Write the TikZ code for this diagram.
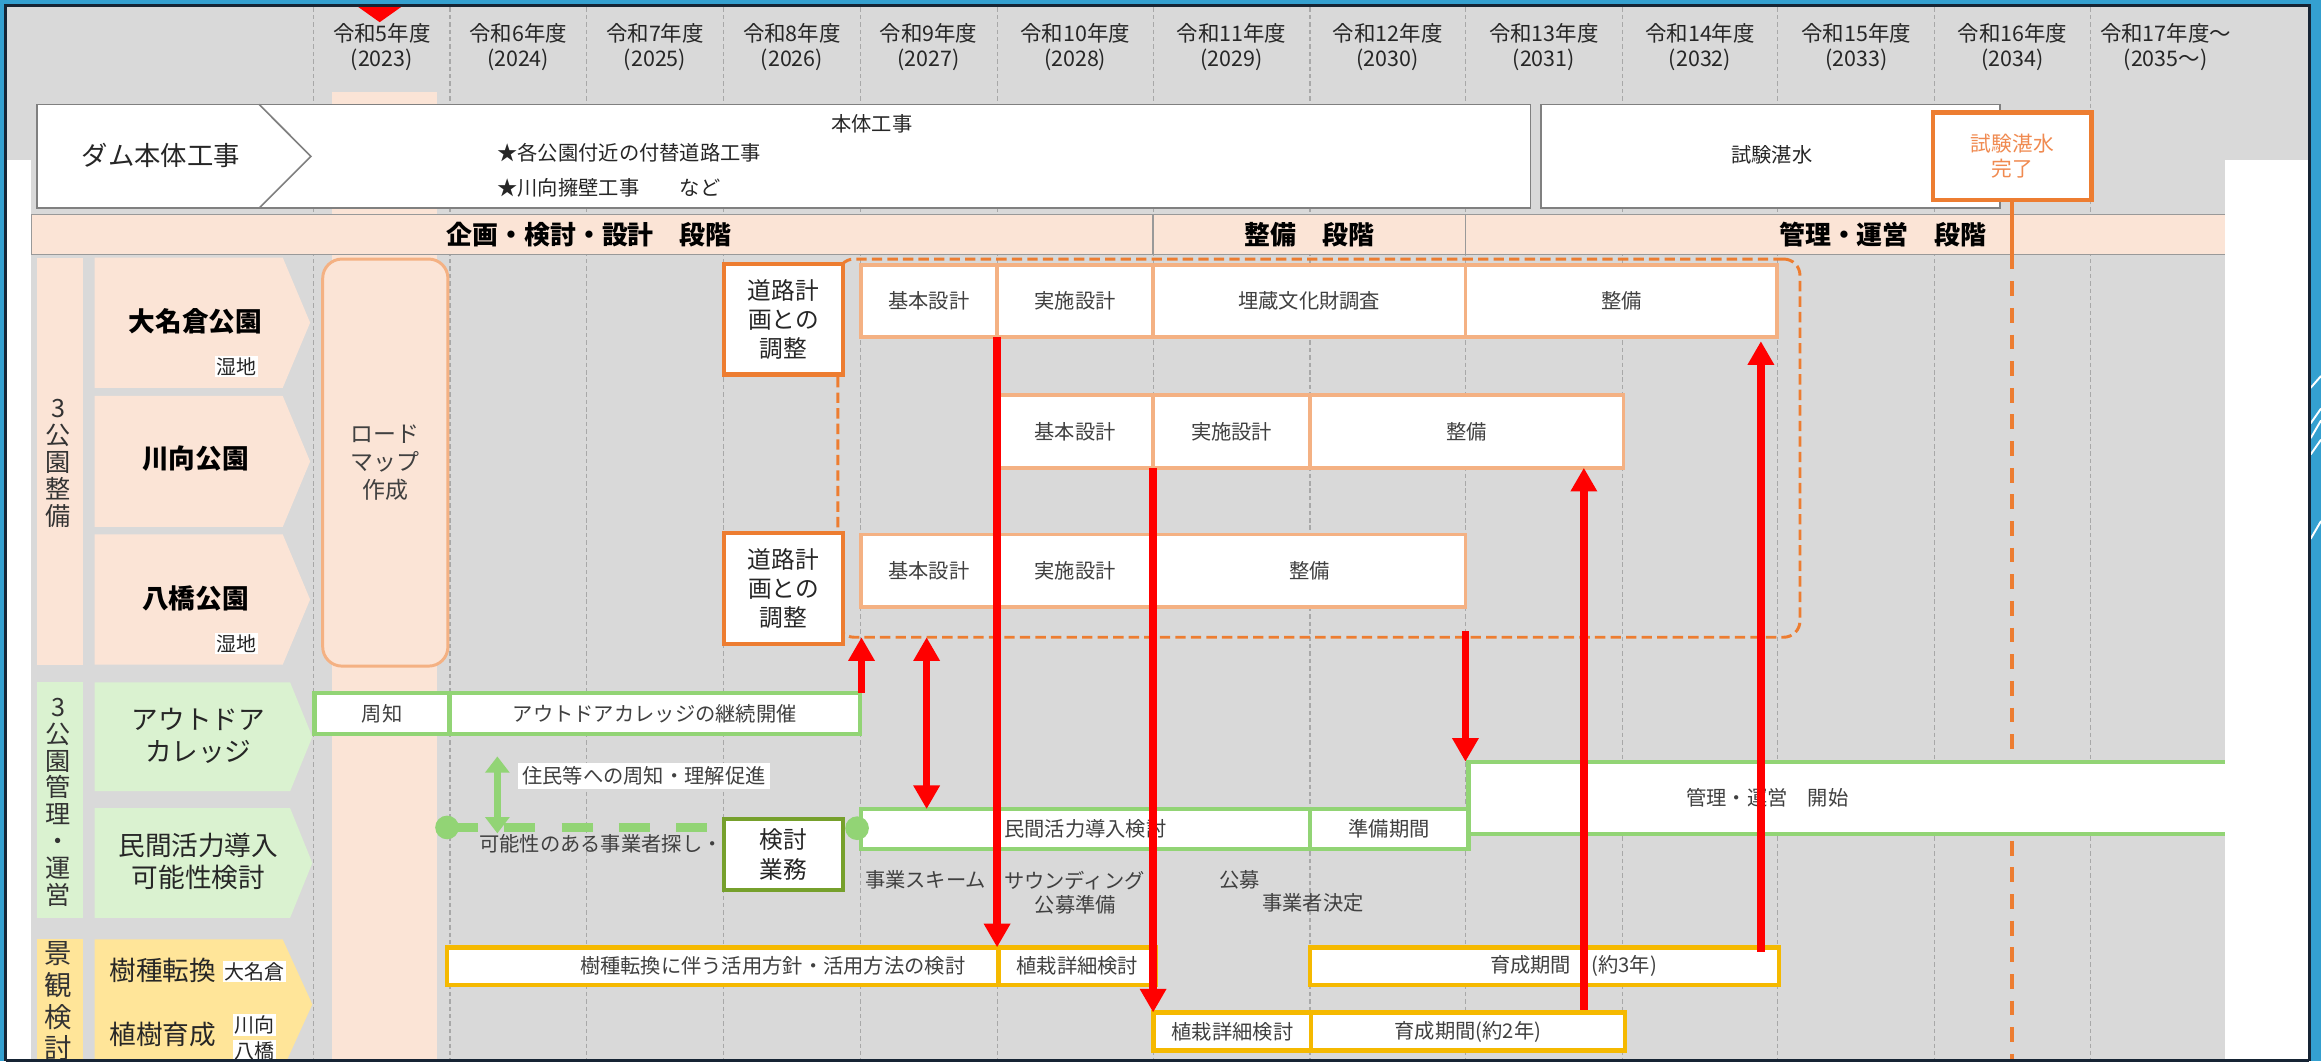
\documentclass[tikz,border=0pt]{standalone}
\usepackage{fontspec}
\setmainfont{Noto Sans CJK JP}
\usetikzlibrary{arrows.meta}
\definecolor{bggray}{RGB}{217,217,217}
\definecolor{peach}{RGB}{251,228,214}
\definecolor{peachline}{RGB}{244,177,131}
\definecolor{orng}{RGB}{237,125,49}
\definecolor{orngtxt}{RGB}{240,138,80}
\definecolor{lgreen}{RGB}{218,242,208}
\definecolor{greenline}{RGB}{146,212,117}
\definecolor{dgreen}{RGB}{118,160,44}
\definecolor{lyellow}{RGB}{255,229,153}
\definecolor{gold}{RGB}{245,185,0}
\definecolor{txtgray}{RGB}{64,64,64}
\definecolor{gridgray}{RGB}{168,168,168}
\definecolor{framenavy}{RGB}{22,36,52}
\definecolor{bluebg}{RGB}{52,160,208}
\definecolor{redar}{RGB}{255,0,0}
\definecolor{boxgray}{RGB}{128,128,128}
\newcommand{\boxat}[7]{\node[#1, anchor=north west, minimum width={#4-#2}, minimum height={#5-#3}] (#6) at (#2,#3) {#7};}
\begin{document}
\begin{tikzpicture}[x=1pt,y=-1pt,
  every node/.style={inner sep=0pt,outer sep=0pt},
  norm/.style={font=\fontsize{13.7}{16.5}\selectfont,text=txtgray},
  big/.style={font=\fontsize{18}{21.5}\selectfont,text=black!85,align=center},
  bigb/.style={font=\bfseries\fontsize{18}{21}\selectfont,text=black},
  yearlbl/.style={align=center,font=\fontsize{14.5}{17}\selectfont,text=black!85},
  vert/.style={align=center,font=\fontsize{17}{18.2}\selectfont,text=black!80},
  small/.style={fill=white,inner sep=1pt,font=\fontsize{13.5}{15}\selectfont,text=black!85},
  pcell/.style={draw=peachline,line width=2.5pt,fill=white,norm},
  gcell/.style={draw=greenline,line width=3pt,fill=white,norm},
  ycell/.style={draw=gold,line width=3pt,fill=white,norm},
  bandcell/.style={draw=boxgray!80,line width=0.9pt,fill=peach,font=\bfseries\fontsize{17.5}{20}\selectfont,text=black},
  dambox/.style={draw=boxgray,line width=1.1pt,fill=white,norm},
  roadbox/.style={draw=orng,line width=2.8pt,fill=white,align=center,font=\fontsize{16}{19.5}\selectfont,text=black!85},
  kentoubox/.style={draw=dgreen,line width=2.8pt,fill=white,align=center,font=\fontsize{16}{20.5}\selectfont,text=black!85},
  donebox/.style={draw=orng,line width=3pt,fill=white,align=center,font=\fontsize{14}{17}\selectfont,text=orngtxt},
  roadmapbox/.style={draw=peachline,line width=2pt,fill=peach,rounded corners=13pt,align=center,font=\fontsize{15.5}{19}\selectfont,text=txtgray},
  grpbox/.style={draw=orng,line width=2pt,dash pattern=on 7pt off 3.5pt,rounded corners=11pt},
  gridline/.style={draw=gridgray,line width=0.8pt,dash pattern=on 3pt off 2pt},
  redarrow/.style={draw=redar,line width=5pt,-{Triangle[width=17pt,length=16pt]}},
  reddouble/.style={draw=redar,line width=5pt,{Triangle[width=17pt,length=16pt]}-{Triangle[width=17pt,length=16pt]}},
  garrow/.style={draw=greenline,line width=4.5pt,{Triangle[width=16pt,length=11pt]}-{Triangle[width=16pt,length=11pt]}},
  gdash/.style={draw=greenline,line width=5.5pt,dash pattern=on 21pt off 17.7pt},
  gdot/.style={circle,fill=greenline,minimum size=16pt}
]
\useasboundingbox (0,0) rectangle (1568,717);
% background and frame
\fill[bluebg] (0,0) rectangle (1568,717);
\foreach \ya/\yb in {254/262,276/286,284/296,297/307,352/364}
  \draw[white,line width=1.3pt] (1561,\yb) -- (1568,\ya);
\fill[framenavy] (3,3) rectangle (1561,717);
\fill[bggray] (5,5) rectangle (1559,717);
% grid
\foreach \x in {212,304,396,489,581.5,673.6,779,885,990,1096,1201,1307,1412}
  \draw[gridline] (\x,5) -- (\x,717);
% roadmap year strip and marker
\fill[peach] (224,62) rectangle (295,717);
\fill[redar] (241,4) -- (272,4) -- (256.5,15) -- cycle;
% year labels
\foreach \cx/\a/\b [count=\i] in {258/5/2023,350/6/2024,442.5/7/2025,535/8/2026,627.3/9/2027,726.3/10/2028,832/11/2029,937.5/12/2030,1043/13/2031,1148.5/14/2032,1254/15/2033,1359.5/16/2034}
  \node[yearlbl] (yr\i) at (\cx,32) {令和\a 年度\\(\b)};
\node[yearlbl] (yr13) at (1463,32) {令和17年度～\\(2035～)};
% dam row
\boxat{dambox}{25}{70.5}{1034}{140.7}{dam}{}
\draw[boxgray,line width=1.1pt] (175,70.5) -- (210,105.6) -- (175,140.7);
\node[font=\fontsize{17.8}{20}\selectfont,text=black!85] (damlbl) at (108.6,105) {ダム本体工事};
\node[norm,text=black!85] (hontai) at (589,83.5) {本体工事};
\node[norm,text=black!85,anchor=west] (star1) at (336,103) {★各公園付近の付替道路工事};
\node[norm,text=black!85,anchor=west] (star2) at (336,127) {★川向擁壁工事　　など};
\boxat{dambox}{1041}{70.5}{1351}{140.7}{shiken}{}
\node[norm,text=black!85] (shikentxt) at (1197,104.7) {試験湛水};
\boxat{donebox}{1306}{76}{1413}{135}{done}{試験湛水\\完了}
% phase band
\boxat{bandcell}{21}{145}{779}{172}{band1}{}
\boxat{bandcell}{779}{145}{990}{172}{band2}{}
\boxat{bandcell}{990}{145}{1559}{172}{band3}{}
\node[bandcell,draw=none,fill=none] (ph1) at (398,158.5) {企画・検討・設計　段階};
\node[bandcell,draw=none,fill=none] (ph2) at (884.5,158.5) {整備　段階};
\node[bandcell,draw=none,fill=none] (ph3) at (1272,158.5) {管理・運営　段階};
% completion line
\coordinate (vlbot) at (1359.5,717);
\draw[orng,line width=2.8pt] (done.south) -- (done.south |- band3.south);
\draw[orng,line width=2.8pt,dash pattern=on 10pt off 8pt] (done.south |- band3.south) -- (vlbot);
% left: 3 parks section
\fill[peach] (25,174) rectangle (56,449);
\node[vert] (sec1) at (39.5,313) {3\\公\\園\\整\\備};
\fill[peach] (64,174) -- (191,174) -- (209.5,218) -- (191,262) -- (64,262) -- cycle;
\fill[peach] (64,267.5) -- (191,267.5) -- (209.5,311.75) -- (191,356) -- (64,356) -- cycle;
\fill[peach] (64,361) -- (191,361) -- (209.5,405) -- (191,449) -- (64,449) -- cycle;
\node[bigb] (p1) at (132,217) {大名倉公園};
\node[small] (p1s) at (159.5,247.5) {湿地};
\node[bigb] (p2) at (132,310) {川向公園};
\node[bigb] (p3) at (132,404) {八橋公園};
\node[small] (p3s) at (159.5,435) {湿地};
% roadmap
\boxat{roadmapbox}{218}{175}{302.6}{450}{roadmap}{ロード\\マップ\\作成}
% dashed group
\boxat{grpbox}{566}{175}{1216}{430.5}{grp}{}
\boxat{roadbox}{489}{178.5}{569.5}{253}{road1}{道路計\\画との\\調整}
\boxat{roadbox}{489}{360}{569.5}{435}{road2}{道路計\\画との\\調整}
% park bars
\boxat{pcell}{581.5}{179}{673.6}{227.5}{d1a}{基本設計}
\boxat{pcell}{673.6}{179}{779}{227.5}{d1b}{実施設計}
\boxat{pcell}{779}{179}{990}{227.5}{d1c}{埋蔵文化財調査}
\boxat{pcell}{990}{179}{1200.6}{227.5}{d1d}{整備}
\boxat{pcell}{673.6}{267}{779}{316}{k1a}{基本設計}
\boxat{pcell}{779}{267}{885}{316}{k1b}{実施設計}
\boxat{pcell}{885}{267}{1096.7}{316}{k1c}{整備}
\boxat{pcell}{581.5}{361}{673.6}{410}{h1a}{基本設計}
\boxat{pcell}{673.6}{361}{779}{410}{h1b}{実施設計}
\boxat{pcell}{779}{361}{990}{410}{h1c}{整備}
% management section
\fill[lgreen] (25,461) rectangle (56,620);
\node[vert] (sec2) at (39.5,542) {3\\公\\園\\管\\理\\・\\運\\営};
\fill[lgreen] (64,461) -- (196,461) -- (211,497.75) -- (196,534.5) -- (64,534.5) -- cycle;
\fill[lgreen] (64,546) -- (196,546) -- (211,583) -- (196,620) -- (64,620) -- cycle;
\node[big] (g1) at (134,497) {アウトドア\\カレッジ};
\node[big] (g2) at (134,582) {民間活力導入\\可能性検討};
\boxat{gcell}{212.5}{468}{303.7}{496}{g1a}{周知}
\boxat{gcell}{303.7}{468}{581}{496}{g1b}{アウトドアカレッジの継続開催}
\boxat{gcell}{992}{514.6}{1559}{563.5}{kanri}{}
\node[norm] (kanritxt) at (1194,539) {管理・運営　開始};
\boxat{gcell}{581.5}{546.6}{885}{573.6}{m1a}{民間活力導入検討}
\boxat{gcell}{885}{546.6}{992}{573.6}{m1b}{準備期間}
\node[gdot] (gc2) at (579,559.5) {};
\node[norm] (sound1) at (625.3,594.6) {事業スキーム};
\node[norm] (sound2) at (725.8,594.6) {サウンディング};
\node[norm] (sound3) at (726.6,611.5) {公募準備};
\node[norm] (koubo) at (837.5,594.6) {公募};
\node[norm] (kettei) at (887,610) {事業者決定};
\node[norm] (sagashi) at (406,570) {可能性のある事業者探し・};
\boxat{kentoubox}{489}{553}{569.5}{601.5}{kentou}{検討\\業務}
\node[gdot] (gc1) at (302,559) {};
\draw[gdash] (gc1.center) -- (479,559) coordinate (gdend);
\node[norm,fill=white,inner xsep=3pt,inner ysep=2.5pt] (jumin) at (435,524) {住民等への周知・理解促進};
\coordinate (gat) at (336,511);
\coordinate (gab) at (336,563);
\draw[garrow] (gat) -- (gab);
% landscape section
\fill[lyellow] (25,634.6) rectangle (56,760);
\node[align=center,font=\fontsize{18.5}{21.5}\selectfont,text=black!80,anchor=north] (sec3) at (39.5,636) {景\\観\\検\\討};
\fill[lyellow] (64,634.6) -- (191,634.6) -- (211,678.5) -- (191,722.5) -- (64,722.5) -- cycle;
\node[big] (y1) at (110,655.4) {樹種転換};
\node[big] (y2) at (110,699) {植樹育成};
\node[small] (y1s) at (172,656.3) {大名倉};
\node[small] (y2s) at (171.7,692.3) {川向};
\node[small] (y3s) at (171.7,710) {八橋};
\boxat{ycell}{301.8}{640}{674.6}{665.5}{y1a}{}
\node[norm] (y1atxt) at (522,652.7) {樹種転換に伴う活用方針・活用方法の検討};
\boxat{ycell}{674.6}{640}{781}{665.5}{y1c}{植栽詳細検討}
\boxat{ycell}{885}{640}{1201.7}{665.5}{y1b}{}
\node[norm] (y1btxt) at (1063,652.7) {育成期間　(約3年)};
\boxat{ycell}{779.4}{684}{885.8}{709.6}{y2a}{植栽詳細検討}
\boxat{ycell}{885.8}{684}{1097.7}{709.6}{y2b}{育成期間(約2年)}
% red arrows
\coordinate (r1x) at (582,0);
\coordinate (r2x) at (626,0);
\coordinate (r5x) at (990,0);
\coordinate (r6x) at (1070,0);
\coordinate (r7x) at (1189.6,0);
\draw[redarrow] (r1x |- g1b.north) -- (r1x |- grp.south);
\draw[reddouble] (r2x |- grp.south) -- (r2x |- m1a.north);
\draw[redarrow] (d1a.south east) -- (d1a.south east |- y1a.north);
\draw[redarrow] (k1a.south east) -- (k1a.south east |- y2a.north);
\draw[redarrow] ([yshift=4pt]r5x |- grp.south) -- (r5x |- kanri.north);
\draw[redarrow] ([yshift=2pt]r6x |- y2b.north) -- (r6x |- k1c.south);
\draw[redarrow] ([yshift=-3pt]r7x |- y1b.north) -- ([yshift=-3pt]r7x |- d1d.south);
% white cover strips and frame
\fill[white] (5,108) rectangle (21,717);
\fill[white] (1503,108) rectangle (1559,717);
\draw[framenavy,line width=1.6pt] (4,717) -- (4,4) -- (1560,4) -- (1560,717);
\draw[framenavy,line width=1.6pt] (4,716.5) -- (1560,716.5);
\end{tikzpicture}
\end{document}
